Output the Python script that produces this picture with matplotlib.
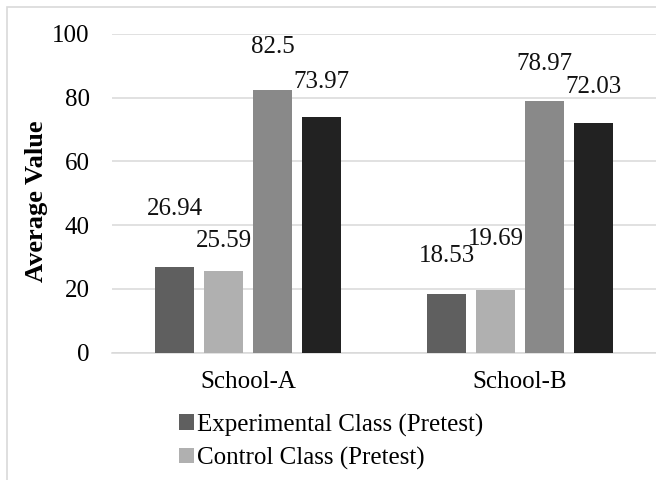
import matplotlib
matplotlib.use("Agg")
import matplotlib.pyplot as plt
from matplotlib.patches import Rectangle
import numpy as np

schools = ["School-A", "School-B"]
series = [
    "Experimental Class (Pretest)",
    "Control Class (Pretest)",
    "Experimental Class (Posttest)",
    "Control Class (Posttest)",
]
pretest_exp = [26.94, 18.53]
pretest_ctl = [25.59, 19.69]
posttest_exp = [82.5, 78.97]
posttest_ctl = [73.97, 72.03]
values = [pretest_exp, pretest_ctl, posttest_exp, posttest_ctl]

colors = ["#5f5f5f", "#b0b0b0", "#898989", "#222222"]
# how far each value label sits above its bar (points), per series / school
label_lift = [[42, 27], [22, 37], [31, 27], [25, 26]]

plt.rcParams["font.family"] = ["Liberation Serif", "DejaVu Serif"]
plt.rcParams["font.size"] = 18

fig = plt.figure(figsize=(6.56, 4.8), dpi=100)
ax = fig.add_axes([112 / 656, 1 - 352.7 / 480, 544 / 656, 318.7 / 480])

x = np.arange(len(schools))
step = 0.18
width = 0.143
bars = []
for i, vals in enumerate(values):
    b = ax.bar(x + (i - 1.5) * step, vals, width, color=colors[i],
               label=series[i], zorder=3)
    bars.append(b)
    for j, rect in enumerate(b):
        ax.annotate(f"{vals[j]:g}",
                    (rect.get_x() + rect.get_width() / 2, vals[j]),
                    xytext=(0, label_lift[i][j]), textcoords="offset points",
                    ha="center", va="center", fontsize=18, color="#111111")

ax.set_xlim(-0.5, 1.5)
ax.set_ylim(0, 100)
ax.set_yticks(range(0, 101, 20))
ax.set_xticks(x)
ax.set_xticklabels(schools)
ax.grid(axis="y", color="#d9d9d9", linewidth=1.1, zorder=0)
for s in ["top", "right", "left"]:
    ax.spines[s].set_visible(False)
ax.spines["bottom"].set_color("#d9d9d9")
ax.spines["bottom"].set_linewidth(1.1)
ax.tick_params(axis="y", length=0, pad=16, labelsize=18)
ax.tick_params(axis="x", length=0, pad=13, labelsize=18)

ax.set_ylabel("Average Value", fontweight="bold", fontsize=19)
ax.yaxis.set_label_coords(-0.118, 0.476)

fig.legend(handles=[bars[0], bars[1]], loc="upper left",
           bbox_to_anchor=(161 / 656, 1 - 396 / 480), frameon=False,
           fontsize=18, handlelength=0.6, handleheight=0.6,
           handletextpad=0.15, labelspacing=0.4, borderpad=0.2)

fig.patches.append(Rectangle((7 / 656, -0.1), 1.2, 1.1 - 7 / 480,
                             transform=fig.transFigure, fill=False,
                             edgecolor="#d9d9d9", linewidth=1.2))

fig.savefig("out.png", dpi=100)
